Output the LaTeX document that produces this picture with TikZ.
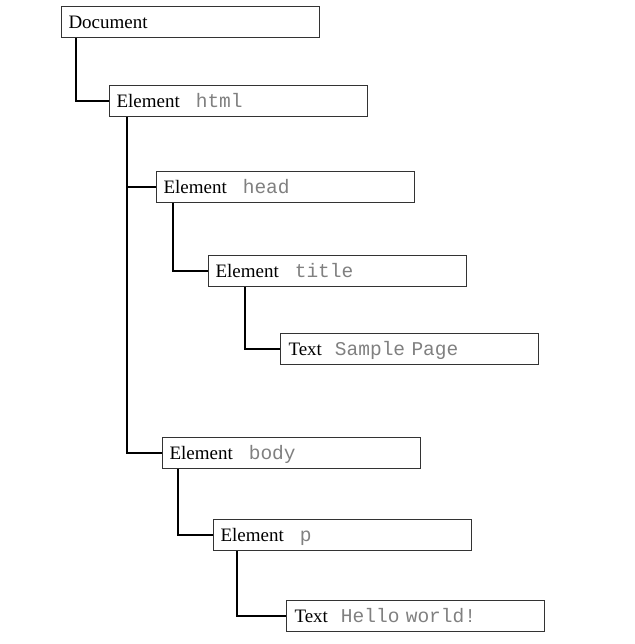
\documentclass[tikz,border=0pt]{standalone}
\usepackage{fontspec}
\setmainfont{Liberation Serif}
\newfontfamily\monof{Liberation Mono}
\begin{document}
\begin{tikzpicture}[x=1pt,y=1pt,
  box/.style={draw=black!80, line width=1pt, anchor=north west, minimum width=258pt, minimum height=31pt,
    text width=244pt, inner xsep=7pt, inner ysep=0pt, align=left, text height=15pt, text depth=2pt,
    font=\fontsize{19}{20}\selectfont},
  textbox/.style={box, text width=242pt, inner xsep=8pt},
  conn/.style={draw=black, line width=1.6pt}]
\newcommand{\mytag}[1]{{\monof\fontsize{19.5}{20}\selectfont\color{black!50}#1}}
\useasboundingbox (0,0) rectangle (634,-644);
\node[box] (doc) at (61,-6) {Document};
\node[box] (html) at (109,-85) {Element\hspace{16pt}\mytag{html}};
\node[box] (head) at (156,-171) {Element\hspace{16pt}\mytag{head}};
\node[box] (title) at (208,-255) {Element\hspace{16pt}\mytag{title}};
\node[textbox] (t1) at (280,-333) {Text\hspace{13pt}\mytag{Sample Page}};
\node[box] (body) at (162,-437) {Element\hspace{16pt}\mytag{body}};
\node[box] (p) at (213,-519) {Element\hspace{16pt}\mytag{p}};
\node[textbox] (t2) at (286,-600) {Text\hspace{13pt}\mytag{Hello world!}};
\draw[conn] ([xshift=15pt]doc.south west) |- (html.west);
\draw[conn] ([xshift=18pt]html.south west) |- (head.west);
\draw[conn] ([xshift=18pt]html.south west) |- (body.west);
\draw[conn] ([xshift=17pt]head.south west) |- (title.west);
\draw[conn] ([xshift=37pt]title.south west) |- (t1.west);
\draw[conn] ([xshift=16pt]body.south west) |- (p.west);
\draw[conn] ([xshift=24pt]p.south west) |- (t2.west);
\end{tikzpicture}
\end{document}
